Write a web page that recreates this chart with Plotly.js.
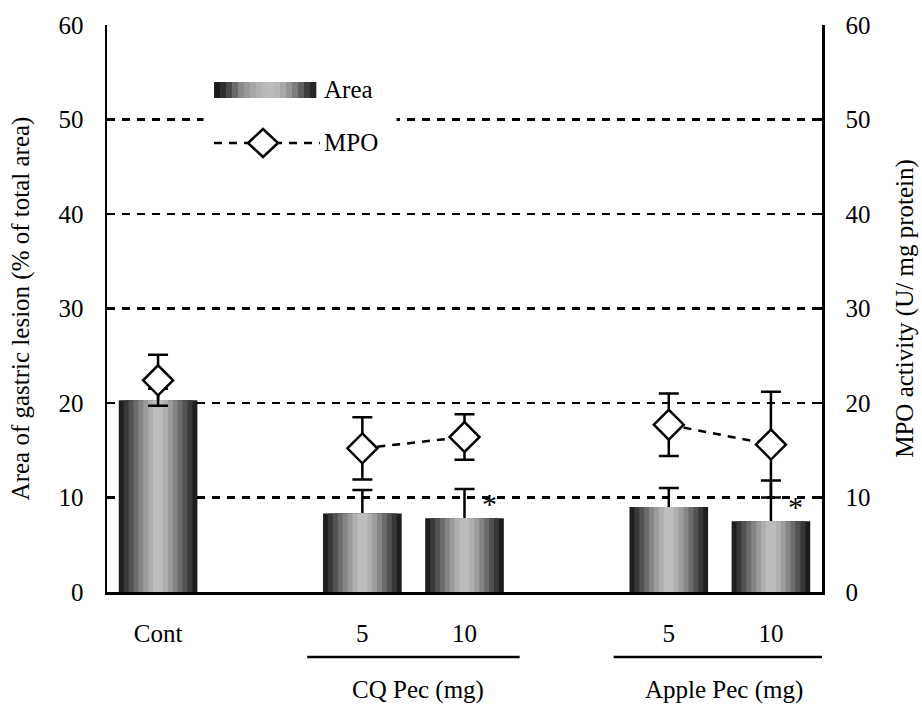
<!DOCTYPE html>
<html>
<head>
<meta charset="utf-8">
<script src="https://cdn.plot.ly/plotly-3.0.1.min.js"></script>
<style>html,body{margin:0;padding:0;background:#fff;}</style>
</head>
<body>
<div id="chart" style="width:922px;height:709px;"></div>
<script>
// ---- data ----
var xPos = [0, 2, 3, 5, 6];
var tickLabels = ["Cont", "5", "10", "5", "10"];
var areaVals = [20.3, 8.3, 7.8, 9.0, 7.5];
var areaErr = [1.2, 2.5, 3.1, 2.0, 4.3];
var mpoVals = [22.4, 15.2, 16.4, 17.7, 15.6];
var mpoErr = [2.7, 3.3, 2.4, 3.3, 5.6];
var groupNames = ["CQ Pec (mg)", "Apple Pec (mg)"];
var groupIdx = [[1, 2], [3, 4]];
var sigIdx = [2, 4];

// ---- styles ----
var FONT = "'Liberation Serif', 'DejaVu Serif', serif";
var shades = ["#1e1e1e", "#383838", "#525252", "#6c6c6c", "#858585", "#9c9c9c", "#afafaf", "#bdbdbd"];
var outerW = 0.77;
var traces = [];
shades.forEach(function (c, i) {
  var w = outerW * (1 - i / shades.length);
  var t = {
    type: "bar", x: xPos, y: areaVals, width: w,
    marker: {color: c, line: {width: 0}},
    hoverinfo: "skip", showlegend: false
  };
  if (i === 0) {
    t.error_y = {type: "data", array: areaErr, arrayminus: areaErr.map(function(){return 1;}),
      symmetric: false, color: "#000", thickness: 2.5, width: 10};
  }
  traces.push(t);
});
groupIdx.forEach(function (g) {
  traces.push({
    type: "scatter", mode: "lines", yaxis: "y2",
    x: g.map(function (k) { return xPos[k]; }),
    y: g.map(function (k) { return mpoVals[k]; }),
    line: {color: "#000", width: 2.5, dash: "8px,7px"},
    showlegend: false, hoverinfo: "skip"
  });
});
traces.push({
  type: "scatter", mode: "markers", yaxis: "y2", x: xPos, y: mpoVals,
  marker: {symbol: "diamond", size: 23, color: "#fff", line: {color: "#000", width: 2.5}},
  error_y: {type: "data", array: mpoErr, color: "#000", thickness: 2.5, width: 10},
  showlegend: false
});

var shapes = [];
var annotations = [];
groupIdx.forEach(function (g, j) {
  var a = xPos[g[0]], b = xPos[g[1]];
  shapes.push({type: "line", xref: "x", yref: "paper", x0: a - 0.54, x1: b + 0.54, y0: -0.1146, y1: -0.1146,
    line: {color: "#000", width: 2.5}});
  annotations.push({xref: "x", yref: "paper", x: (a + b) / 2 + 0.04, y: -0.173, text: groupNames[j],
    showarrow: false, font: {family: FONT, size: 25, color: "#000"}, yanchor: "middle"});
});
sigIdx.forEach(function (k) {
  annotations.push({xref: "x", yref: "y", x: xPos[k] + 0.24, y: areaVals[k] + 1.6, text: "*",
    showarrow: false, font: {family: FONT, size: 30, color: "#000"}});
});

// legend (custom)
shapes.push({type: "rect", xref: "paper", yref: "paper", x0: 0.135, x1: 0.405, y0: 0.755, y1: 0.92,
  fillcolor: "#fff", line: {width: 0}, layer: "above"});
var swatch = ["#1a1a1a", "#2e2e2e", "#4a4a4a", "#6a6a6a", "#8a8a8a", "#9a9a9a", "#a6a6a6", "#b0b0b0",
  "#b8b8b8", "#bcbcbc", "#b6b6b6", "#a8a8a8", "#959595", "#7c7c7c", "#5e5e5e", "#3e3e3e", "#262626"];
var sx0 = 0.1497, sx1 = 0.2923;
swatch.forEach(function (c, i) {
  var w = (sx1 - sx0) / swatch.length;
  shapes.push({type: "rect", xref: "paper", yref: "paper", x0: sx0 + i * w, x1: sx0 + (i + 1) * w + 0.0005,
    y0: 0.8713, y1: 0.8995, fillcolor: c, line: {width: 0}, layer: "above"});
});
annotations.push({xref: "paper", yref: "paper", x: 0.3007, y: 0.8854, xanchor: "left", yanchor: "middle",
  text: "Area", showarrow: false, font: {family: FONT, size: 25, color: "#000"}});
shapes.push({type: "line", xref: "paper", yref: "paper", x0: 0.1497, x1: 0.2979, y0: 0.7919, y1: 0.7919,
  line: {color: "#000", width: 2.5, dash: "8px,7px"}, layer: "above"});
shapes.push({type: "path", xref: "paper", yref: "paper", xsizemode: "pixel", ysizemode: "pixel",
  xanchor: 0.2182, yanchor: 0.7919, path: "M0,-14L15,0L0,14L-15,0Z",
  fillcolor: "#fff", line: {color: "#000", width: 2.5}, layer: "above"});
annotations.push({xref: "paper", yref: "paper", x: 0.3007, y: 0.7919, xanchor: "left", yanchor: "middle",
  text: "MPO", showarrow: false, font: {family: FONT, size: 25, color: "#000"}});

var yCommon = {
  range: [0, 60], tickvals: [0, 10, 20, 30, 40, 50, 60], ticks: "inside", ticklen: 8, tickwidth: 2.5,
  tickcolor: "#000", showline: true, linewidth: 2.5, linecolor: "#000", zeroline: false,
  tickfont: {family: FONT, size: 25, color: "#000"}, ticklabelstandoff: 16, fixedrange: true
};
var layout = {
  width: 922, height: 709,
  margin: {l: 107, r: 100, t: 25, b: 117},
  paper_bgcolor: "#fff", plot_bgcolor: "#fff",
  barmode: "overlay", showlegend: false,
  font: {family: FONT, size: 25, color: "#000"},
  xaxis: {
    range: [-0.5, 6.5], tickvals: xPos, ticktext: tickLabels, ticks: "", showline: true,
    linewidth: 2.5, linecolor: "#000", showgrid: false, zeroline: false,
    tickfont: {family: FONT, size: 25, color: "#000"}, ticklabelstandoff: 17, fixedrange: true
  },
  yaxis: Object.assign({}, yCommon, {
    showgrid: true, gridcolor: "#000", gridwidth: 2.5, griddash: "8px,7px",
    title: {text: "Area of gastric lesion (% of total area)", standoff: 22,
      font: {family: FONT, size: 25, color: "#000"}}
  }),
  yaxis2: Object.assign({}, yCommon, {
    overlaying: "y", side: "right", showgrid: false,
    title: {text: "MPO activity (U/ mg protein)", standoff: 26,
      font: {family: FONT, size: 25, color: "#000"}}
  }),
  shapes: shapes,
  annotations: annotations
};
Plotly.newPlot("chart", traces, layout, {displayModeBar: false, staticPlot: true});
</script>
</body>
</html>
